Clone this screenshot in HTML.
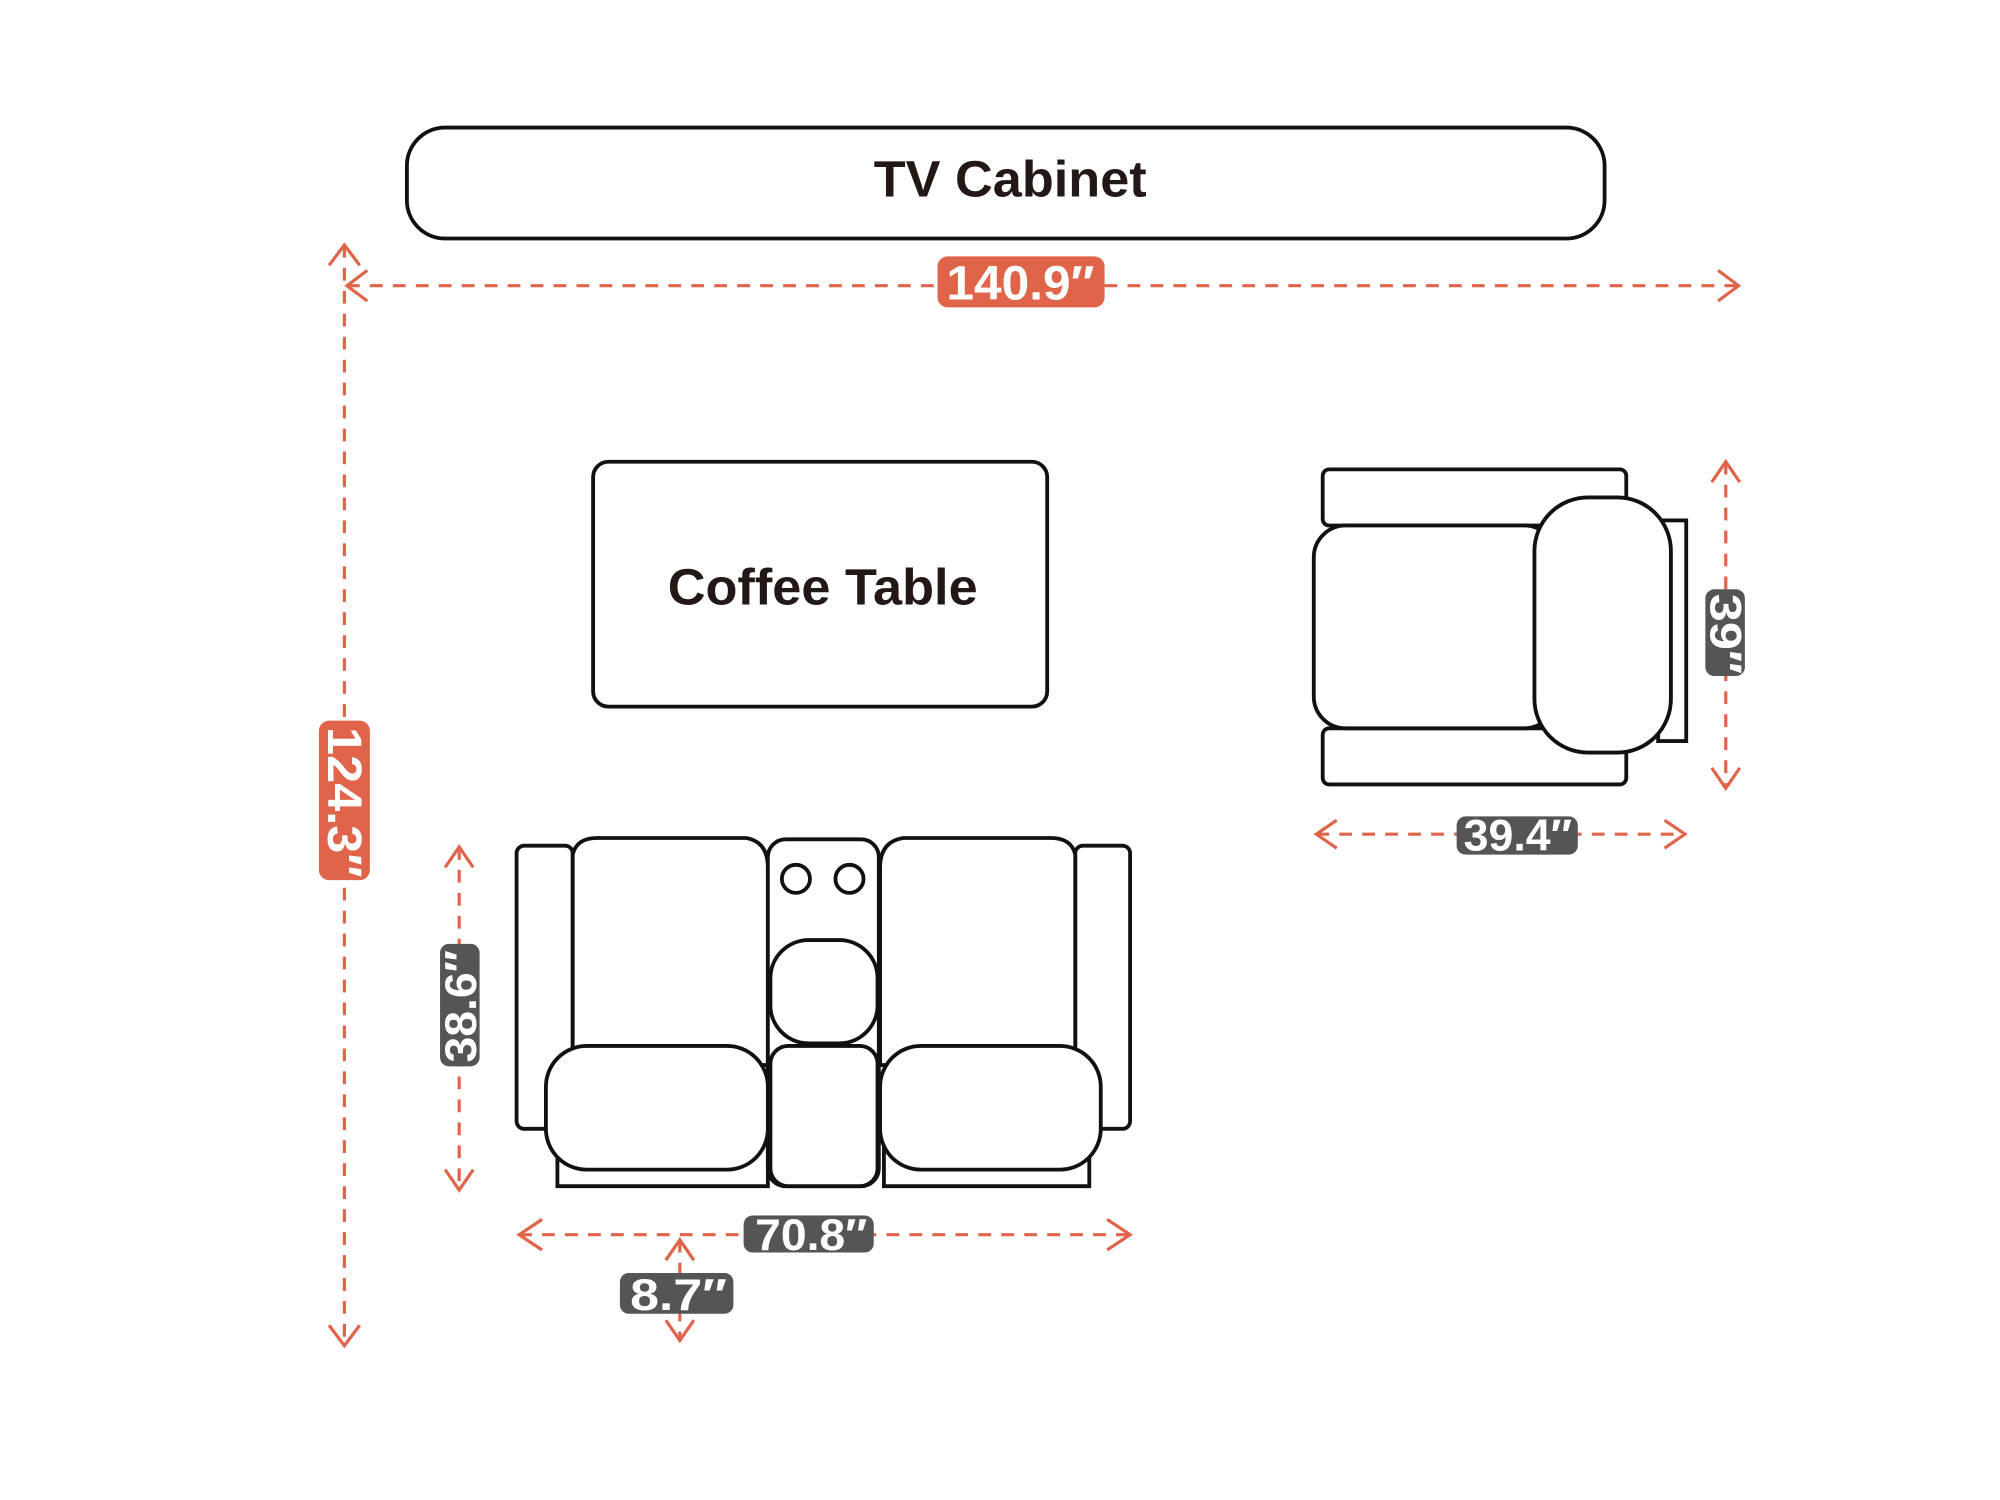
<!DOCTYPE html>
<html><head><style>html,body{margin:0;padding:0;background:#fff}svg{display:block}</style></head><body>
<svg width="2000" height="1500" viewBox="0 0 1568 1176" xmlns="http://www.w3.org/2000/svg" font-family="Liberation Sans, sans-serif" font-weight="bold">
<rect width="1568" height="1176" fill="#fff"/>
<g fill="#fff" stroke="#111" stroke-width="3">
<rect x="319" y="100" width="939" height="87" rx="30"/>
<rect x="465" y="362" width="356" height="192" rx="12"/>
<rect x="405" y="663" width="44" height="222" rx="6"/>
<rect x="843" y="663" width="43" height="222" rx="6"/>
<path d="M437 880V930H602V880Z"/><path d="M693 880V930H854V880Z"/>
<path d="M449 835V670Q452 657 468 657H585Q602 660 602 680V835Z"/>
<path d="M843 835V670Q840 657 824 657H708Q690 660 690 680V835Z"/>
<rect x="602" y="658" width="87" height="272" rx="14"/>
<circle cx="624" cy="689" r="11"/><circle cx="666" cy="689" r="11"/>
<rect x="604" y="737" width="84" height="81" rx="30"/>
<rect x="604" y="820" width="84" height="110" rx="14"/>
<rect x="428" y="820" width="174" height="97" rx="32"/>
<rect x="690" y="820" width="173" height="97" rx="32"/>
<rect x="1300" y="408" width="22" height="173"/>
<rect x="1037" y="368" width="238" height="44" rx="5"/>
<rect x="1037" y="571" width="238" height="44" rx="5"/>
<rect x="1030" y="412" width="190" height="159" rx="25"/>
<rect x="1203" y="390" width="107" height="200" rx="42"/>
</g>
<text x="792" y="154" font-size="40" text-anchor="middle" fill="#231815" textLength="214" lengthAdjust="spacingAndGlyphs">TV Cabinet</text>
<text x="645" y="474" font-size="40" text-anchor="middle" fill="#231815" textLength="243" lengthAdjust="spacingAndGlyphs">Coffee Table</text>
<g stroke="#e0644a" stroke-width="2.5" fill="none">
<g stroke-dasharray="10 8">
<line x1="272" y1="224" x2="1363" y2="224"/>
<line x1="270" y1="192" x2="270" y2="1055"/>
<line x1="360" y1="664" x2="360" y2="933"/>
<line x1="407" y1="968" x2="886" y2="968"/>
<line x1="533" y1="972" x2="533" y2="1051"/>
<line x1="1353" y1="362" x2="1353" y2="618"/>
<line x1="1032" y1="654" x2="1321" y2="654"/>
</g>
<path d="M288 212L272 224L288 236M1347 212L1363 224L1347 236"/>
<path d="M258 208L270 192L282 208M258 1039L270 1055L282 1039"/>
<path d="M349 680L360 664L371 680M349 917L360 933L371 917"/>
<path d="M425 956L407 968L425 980M868 956L886 968L868 980"/>
<path d="M522 988L533 972L544 988M522 1035L533 1051L544 1035"/>
<path d="M1342 378L1353 362L1364 378M1342 602L1353 618L1364 602"/>
<path d="M1048 643L1032 654L1048 665M1305 643L1321 654L1305 665"/>
</g>
<rect x="735" y="201" width="131" height="40" rx="8" fill="#e0644a"/>
<text x="800" y="235" font-size="38" text-anchor="middle" fill="#fff" textLength="116" lengthAdjust="spacingAndGlyphs">140.9″</text>
<rect x="250" y="565" width="40" height="125" rx="8" fill="#e0644a"/>
<text transform="translate(257,629) rotate(90)" font-size="38" text-anchor="middle" fill="#fff" textLength="118" lengthAdjust="spacingAndGlyphs">124.3″</text>
<g fill="#555">
<rect x="345" y="740" width="31" height="96" rx="7"/>
<rect x="583" y="953" width="102" height="29" rx="7"/>
<rect x="486" y="998" width="89" height="32" rx="7"/>
<rect x="1337" y="462" width="31" height="68" rx="7"/>
<rect x="1142" y="640" width="95" height="30" rx="7"/>
</g>
<g fill="#fff" font-size="35" text-anchor="middle">
<text transform="translate(373,789) rotate(-90)" textLength="88" lengthAdjust="spacingAndGlyphs">38.6″</text>
<text x="636" y="980" textLength="88" lengthAdjust="spacingAndGlyphs">70.8″</text>
<text x="532" y="1027" textLength="76" lengthAdjust="spacingAndGlyphs">8.7″</text>
<text transform="translate(1341,497) rotate(90)" textLength="63" lengthAdjust="spacingAndGlyphs">39″</text>
<text x="1190" y="667" textLength="85" lengthAdjust="spacingAndGlyphs">39.4″</text>
</g>
</svg>
</body></html>
